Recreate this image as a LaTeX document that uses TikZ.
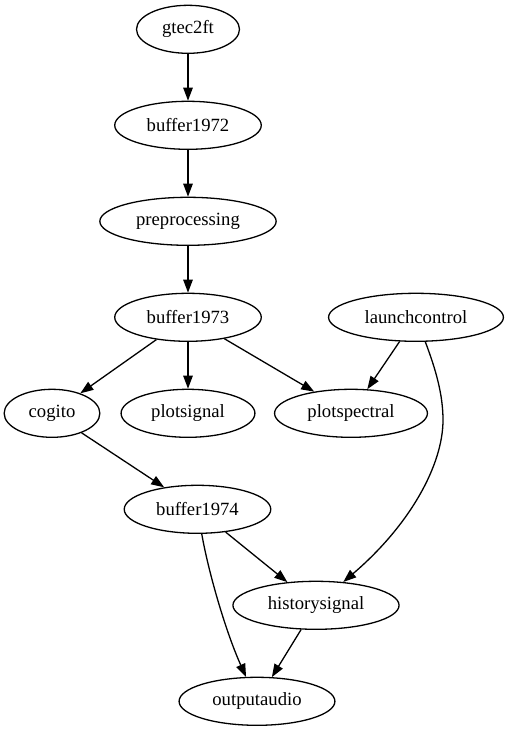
\documentclass[tikz,border=0pt]{standalone}
\usepackage{fontspec}
\setmainfont{Liberation Serif}
\usetikzlibrary{arrows.meta, shapes.geometric}

\begin{document}
\begin{tikzpicture}[
    x=1pt, y=-1pt,
    >={Triangle[length=13pt, width=9.5pt]},
    font=\fontsize{18.67}{22}\selectfont,
    task/.style={
        ellipse,
        draw=black,
        line width=1.3pt,
        minimum width=72pt,
        minimum height=48pt,
        inner xsep=10.5pt,
        inner ysep=2pt,
        fill=white
    },
    link/.style={
        ->,
        line width=1.3pt,
        draw=black
    }
]
\useasboundingbox (0,0) rectangle (507,731);

\node[task] (gtec)  at (188, 29.3)  {gtec2ft};
\node[task] (buf72) at (188, 125.3) {buffer1972};
\node[task] (prep)  at (188, 221.3) {preprocessing};
\node[task] (buf73) at (188, 317.3) {buffer1973};
\node[task] (lctl)  at (416, 317.3) {launchcontrol};
\node[task] (cog)   at (52, 413.3)  {cogito};
\node[task] (psig)  at (188, 413.3) {plotsignal};
\node[task] (pspec) at (351, 413.3) {plotspectral};
\node[task] (buf74) at (197.5, 509.3) {buffer1974};
\node[task] (hist)  at (316, 605.3) {historysignal};
\node[task] (out)   at (257, 701.3) {outputaudio};

\draw[link] (gtec) -- (buf72);
\draw[link] (buf72) -- (prep);
\draw[link] (prep) -- (buf73);

\draw[link] (buf73) -- (cog);
\draw[link] (buf73) -- (psig);
\draw[link] (buf73) -- (pspec);
\draw[link] (lctl) -- (pspec);

% launchcontrol bends round plotspectral
\draw[link] (lctl) .. controls (436,370) and (443,395) .. (443,420)
    .. controls (443,465) and (410,525) .. (hist);

\draw[link] (cog) -- (buf74);
\draw[link] (buf74) -- (hist);
\draw[link] (buf74) .. controls (208,570) and (225,630) .. (out);
\draw[link] (hist) -- (out);

\end{tikzpicture}
\end{document}
